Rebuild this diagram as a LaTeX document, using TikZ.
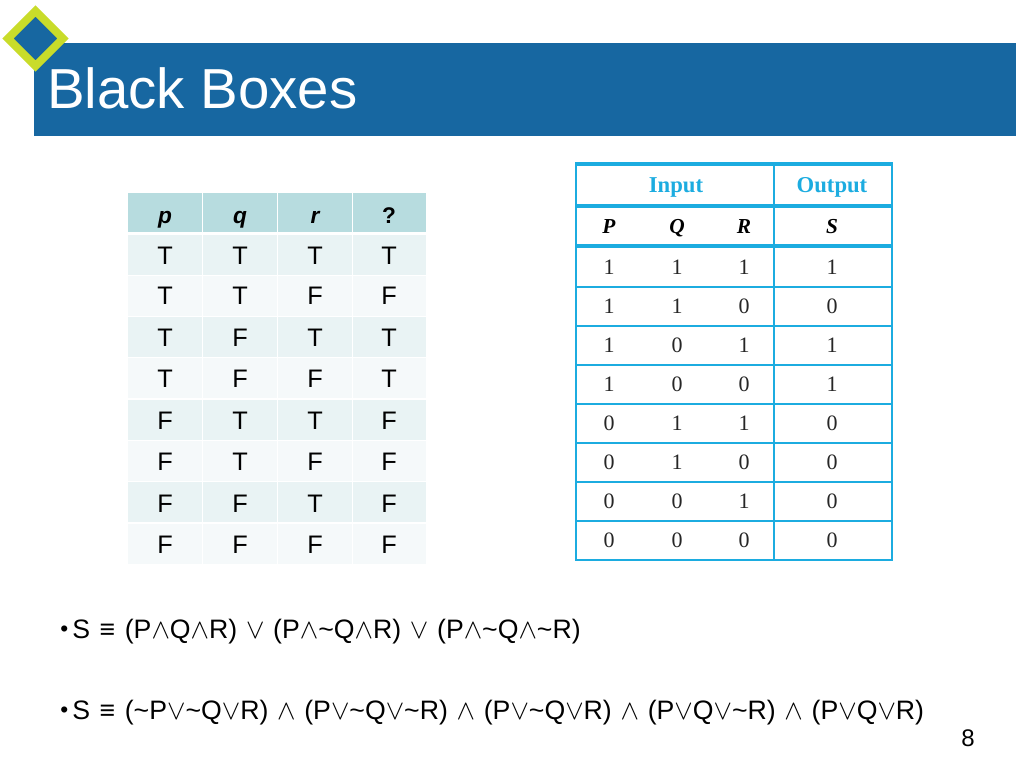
\documentclass[tikz,border=0pt]{standalone}
\usepackage{fontspec}
\setmainfont{Liberation Sans}
\newfontfamily\serifface{Liberation Serif}
\definecolor{barblue}{HTML}{1767A1}
\definecolor{diamondgreen}{HTML}{C9DC2A}
\definecolor{headteal}{HTML}{B7DCDF}
\definecolor{rowdark}{HTML}{E9F3F4}
\definecolor{rowlight}{HTML}{F5F9FA}
\definecolor{cyanline}{HTML}{1CACE0}
\newcommand{\opbox}[1]{\scalebox{1.0}{$#1$}}
\newcommand{\myand}{\opbox{\wedge}}
\newcommand{\myor}{\opbox{\vee}}
\newcommand{\bigand}{\hspace{1pt} \opbox{\wedge} \hspace{1pt}}
\newcommand{\bigor}{\hspace{1pt} \opbox{\vee} \hspace{1pt}}
\newcommand{\lead}{\makebox[9pt][l]{\raisebox{0.05em}{\fontsize{17}{17}\selectfont •}}S \makebox[15pt][c]{≡} }
\newcommand{\tl}{\char`~}
\tikzset{
  cellt/.style={font=\fontsize{19}{22}\selectfont,text=black,inner sep=0pt,anchor=base},
  headt/.style={font=\fontsize{17}{20}\selectfont\bfseries\itshape,text=black,inner sep=0pt,anchor=base},
  serifhead/.style={font=\fontsize{17}{20}\selectfont\serifface\bfseries,text=cyanline,inner sep=0pt,anchor=base},
  serifvar/.style={font=\fontsize{16}{20}\selectfont\serifface\bfseries\itshape,text=black,inner sep=0pt,anchor=base},
  serifcell/.style={font=\fontsize{16.5}{20}\selectfont\serifface,text=black!85,inner sep=0pt,anchor=base},
  formula/.style={font=\fontsize{20}{22}\selectfont,text=black,inner sep=0pt,anchor=base west},
  thinline/.style={cyanline,line width=1.4pt},
  thickline/.style={cyanline,line width=2.6pt}
}
\begin{document}
\begin{tikzpicture}[x=0.75pt,y=-0.75pt]
\useasboundingbox[fill=white] (0,0) rectangle (1024,768);
% title bar
\fill[barblue] (34,43) rectangle (1016,136);
\draw[diamondgreen,fill=barblue,line width=6pt,line join=miter] (35.5,11) -- (63,38.5) -- (35.5,66) -- (8,38.5) -- cycle;
\node[font=\fontsize{42.3}{48}\selectfont,text=white,inner sep=0pt,anchor=base west] (title) at (47,108) {Black Boxes};
% left table
\foreach \xa/\xb in {128/202,203/277,278/352,353/426}{
  \fill[headteal] (\xa,193) rectangle (\xb,232);
  \foreach \ya/\yb in {235/275,317/357,400/440,482/522}{
    \fill[rowdark] (\xa,\ya) rectangle (\xb,\yb);
  }
}
\fill[rowlight] (128,276) rectangle (426,316);
\fill[rowlight] (128,358) rectangle (426,398);
\fill[rowlight] (128,441) rectangle (426,481);
\fill[rowlight] (128,524) rectangle (426,564);
\foreach \x in {202.5,277.5,352.5}{
  \draw[white,line width=0.8pt] (\x,276) -- (\x,316) (\x,358) -- (\x,398) (\x,441) -- (\x,481) (\x,524) -- (\x,564);
}
\node[headt] (hp) at (165,223) {p};
\node[headt] (hq) at (240,223) {q};
\node[headt] (hr) at (315,223) {r};
\node[headt,font=\fontsize{17}{20}\selectfont\bfseries] (hs) at (389,223) {?};
\foreach \n/\y/\a/\b/\c/\d in {1/264/T/T/T/T,2/304/T/T/F/F,3/346/T/F/T/T,4/387/T/F/F/T,5/429/F/T/T/F,6/470/F/T/F/F,7/512/F/F/T/F,8/553/F/F/F/F}{
  \node[cellt] (l\n a) at (165,\y) {\a};
  \node[cellt] (l\n b) at (240,\y) {\b};
  \node[cellt] (l\n c) at (315,\y) {\c};
  \node[cellt] (l\n d) at (389,\y) {\d};
}
% right table
\foreach \y in {287,326,365,404,443,482,521}{
  \draw[thinline] (576,\y) -- (892,\y);
}
\draw[thinline] (576,164) -- (576,560) -- (892,560) -- (892,164);
\draw[thinline] (774,164) -- (774,560);
\foreach \y in {164,206,246}{
  \draw[thickline] (575,\y) -- (893,\y);
}
\node[serifhead] (input) at (676,192) {Input};
\node[serifhead] (output) at (832,192) {Output};
\node[serifvar] (vp) at (609,233) {P};
\node[serifvar] (vq) at (677,233) {Q};
\node[serifvar] (vr) at (744,233) {R};
\node[serifvar] (vs) at (832,233) {S};
\foreach \n/\y/\a/\b/\c/\d in {1/274/1/1/1/1,2/313/1/1/0/0,3/352/1/0/1/1,4/391/1/0/0/1,5/430/0/1/1/0,6/469/0/1/0/0,7/508/0/0/1/0,8/547/0/0/0/0}{
  \node[serifcell] (r\n a) at (609,\y) {\a};
  \node[serifcell] (r\n b) at (677,\y) {\b};
  \node[serifcell] (r\n c) at (744,\y) {\c};
  \node[serifcell] (r\n d) at (832,\y) {\d};
}
% formulas
\node[formula] (f1) at (60,638) {\lead(P\myand Q\myand R)\bigor(P\myand\tl Q\myand R)\bigor(P\myand\tl Q\myand\tl R)};
\node[formula] (f2) at (60,719) {\lead(\tl P\myor\tl Q\myor R)\bigand(P\myor\tl Q\myor\tl R)\bigand(P\myor\tl Q\myor R)\bigand(P\myor Q\myor\tl R)\bigand(P\myor Q\myor R)};
\node[font=\fontsize{18}{20}\selectfont,text=black,inner sep=0pt,anchor=base] (pagenum) at (968,746) {8};
\end{tikzpicture}
\end{document}
